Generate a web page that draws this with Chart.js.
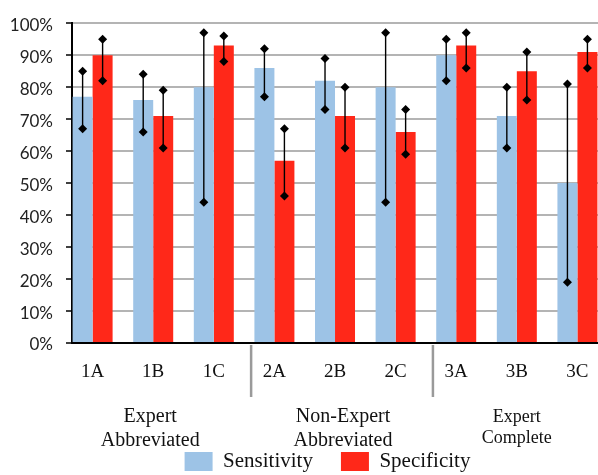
<!DOCTYPE html>
<html>
<head>
<meta charset="utf-8">
<script src="https://cdn.jsdelivr.net/npm/chart.js@4"></script>
<style>
  html, body { margin: 0; padding: 0; overflow: hidden; background: #fff; }
</style>
</head>
<body>
<canvas id="chartSens" width="655" height="482"></canvas>
<script>
const categories = ["1A", "1B", "1C", "2A", "2B", "2C", "3A", "3B", "3C"];
const sensitivity = [77, 76, 80, 86, 82, 80, 90, 71, 50];
const sensLow = [67, 66, 44, 77, 73, 44, 82, 61, 19];
const sensHigh = [85, 84, 97, 92, 89, 97, 95, 80, 81];
const specificity = [90, 71, 93, 57, 71, 66, 93, 85, 91];
const specLow = [82, 61, 88, 46, 61, 59, 86, 76, 86];
const specHigh = [95, 79, 96, 67, 80, 73, 97, 91, 95];
const groupLabels = [["Expert", "Abbreviated"], ["Non-Expert", "Abbreviated"], ["Expert", "Complete"]];
const yTicks = [0, 10, 20, 30, 40, 50, 60, 70, 80, 90, 100];

const serif = "'Liberation Serif', 'Times New Roman', serif";

// whiskers with diamond caps on each bar
const errorBars = {
  id: "errorBars",
  afterDatasetsDraw(chart) {
    const ctx = chart.ctx;
    const y = chart.scales.y;
    chart.data.datasets.forEach((ds, i) => {
      const meta = chart.getDatasetMeta(i);
      meta.data.forEach((bar, j) => {
        const top = y.getPixelForValue(ds.errHigh[j]);
        const bot = y.getPixelForValue(ds.errLow[j]);
        ctx.save();
        ctx.strokeStyle = "#000";
        ctx.lineWidth = 1.4;
        ctx.beginPath();
        ctx.moveTo(bar.x, top);
        ctx.lineTo(bar.x, bot);
        ctx.stroke();
        ctx.fillStyle = "#000";
        [top, bot].forEach((py) => {
          ctx.beginPath();
          ctx.moveTo(bar.x, py - 4.5);
          ctx.lineTo(bar.x + 4.5, py);
          ctx.lineTo(bar.x, py + 4.5);
          ctx.lineTo(bar.x - 4.5, py);
          ctx.closePath();
          ctx.fill();
        });
        ctx.restore();
      });
    });
  },
};

// group separators + group names under the category labels
const groups = {
  id: "groups",
  afterDraw(chart) {
    const ctx = chart.ctx;
    const x = chart.scales.x;
    const base = chart.chartArea.bottom;
    ctx.save();
    ctx.strokeStyle = "#9a9a9a";
    ctx.lineWidth = 2.5;
    [2.5, 5.5].forEach((v) => {
      const px = x.getPixelForValue(v) + 7;
      ctx.beginPath();
      ctx.moveTo(px, base + 2);
      ctx.lineTo(px, base + 54);
      ctx.stroke();
    });
    ctx.fillStyle = "#111";
    ctx.textAlign = "center";
    ctx.textBaseline = "alphabetic";
    const nudge = [-3, 8, 0];
    const sizes = [20, 20, 18];
    const gaps = [24, 24, 21];
    groupLabels.forEach((lines, g) => {
      const cx = x.getPixelForValue(g * 3 + 1) + nudge[g];
      ctx.font = sizes[g] + "px " + serif;
      lines.forEach((t, k) => {
        ctx.fillText(t, cx, base + 79 + k * gaps[g]);
      });
    });
    ctx.restore();
  },
};

const ctx = document.getElementById("chartSens");
new Chart(ctx, {
  type: "bar",
  data: {
    datasets: [
      {
        label: "Sensitivity",
        data: sensitivity.map((v, i) => ({ x: i, y: v })),
        errLow: sensLow,
        errHigh: sensHigh,
        backgroundColor: "rgb(157, 195, 230)",
        borderWidth: 0,
      },
      {
        label: "Specificity",
        data: specificity.map((v, i) => ({ x: i, y: v })),
        errLow: specLow,
        errHigh: specHigh,
        backgroundColor: "rgb(255, 40, 25)",
        borderWidth: 0,
      },
    ],
  },
  options: {
    responsive: false,
    animation: false,
    layout: { padding: { top: 18, left: 0, right: 0, bottom: 0 } },
    datasets: {
      bar: { categoryPercentage: 0.66, barPercentage: 1.0 },
    },
    scales: {
      x: {
        type: "linear",
        min: -0.34,
        max: 9.28,
        offset: false,
        grid: { display: false },
        border: { color: "#000", width: 2 },
        afterBuildTicks: (s) => {
          s.ticks = categories.map((c, i) => ({ value: i }));
        },
        afterFit: (s) => {
          s.height = 80;
        },
        ticks: {
          autoSkip: false,
          maxRotation: 0,
          padding: 10,
          color: "#111",
          font: { family: serif, size: 19 },
          callback: (v) => categories[v],
        },
      },
      y: {
        min: 0,
        max: 100,
        afterBuildTicks: (s) => {
          s.ticks = yTicks.map((v) => ({ value: v }));
        },
        afterFit: (s) => {
          s.width = 72;
        },
        grid: { color: "#b4b4b4", lineWidth: 2, tickLength: 6, tickColor: "#000", tickWidth: 1.5 },
        border: { color: "#000", width: 2 },
        ticks: {
          padding: 13,
          labelOffset: 2,
          color: "#222",
          font: { family: "Lato", size: 17 },
          callback: (v) => v + "%",
        },
      },
    },
    plugins: {
      legend: {
        display: true,
        position: "bottom",
        labels: {
          boxWidth: 28,
          boxHeight: 19,
          padding: 28,
          color: "#111",
          font: { family: serif, size: 21 },
        },
      },
      tooltip: { enabled: false },
    },
  },
  plugins: [errorBars, groups],
});
</script>
</body>
</html>
